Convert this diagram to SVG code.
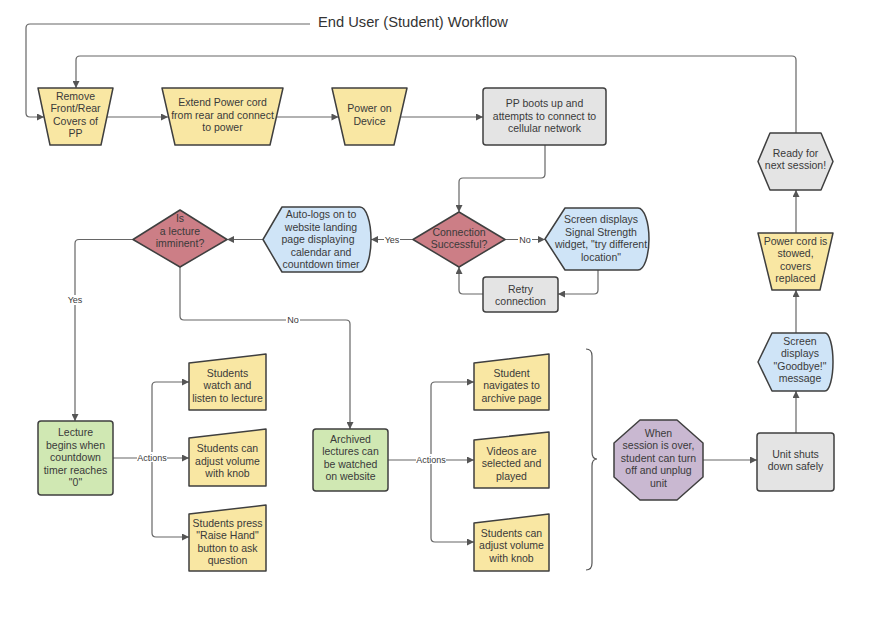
<svg xmlns="http://www.w3.org/2000/svg" width="886" height="626" viewBox="0 0 886 626">
<defs>
<marker id="ah" viewBox="0 0 10 10" refX="10" refY="5" markerWidth="8" markerHeight="7" markerUnits="userSpaceOnUse" orient="auto">
<path d="M0,0 L10,5 L0,10 z" fill="#555"/>
</marker>
<style>
.s{stroke:#3f3f3f;stroke-width:1.5;stroke-linejoin:round}
.y{fill:#f9e7a3}.b{fill:#cfe4f7}.r{fill:#cc7e86}.g{fill:#d0e8b3}.k{fill:#e4e4e4}.p{fill:#c9b8d1}
text{font-family:"Liberation Sans",Arial,sans-serif;font-size:10.5px;fill:#3a3a3a;text-anchor:middle}
.c{fill:none;stroke:#666;stroke-width:1.2}
.a{marker-end:url(#ah)}
.lb{font-size:9px}
.t{font-size:14.7px;text-anchor:start;fill:#333}
</style>
</defs>
<rect width="886" height="626" fill="#fff"/>
<text class="t" x="318" y="27">End User (Student) Workflow</text>

<g id="connectors">
<path class="c a" d="M310,24 H30 Q26,24 26,28 V113 Q26,117 30,117 H44"/>
<path class="c a" d="M796,133 V60 Q796,56 792,56 H80 Q76,56 76,60 V88"/>
<path class="c a" d="M107,117 H168"/>
<path class="c a" d="M276.5,117 H338.5"/>
<path class="c a" d="M400.5,117 H483"/>
<path class="c a" d="M545,145 V174 Q545,178 541,178 H463 Q459,178 459,182 V212"/>
<path class="c a" d="M505,239.5 H545"/>
<path class="c a" d="M598,270 V290 Q598,294 594,294 H558"/>
<path class="c a" d="M483,294 H463 Q459,294 459,290 V267"/>
<path class="c a" d="M413,239.5 H371"/>
<path class="c a" d="M263,239.5 H227"/>
<path class="c a" d="M133,239.5 H79 Q75,239.5 75,243.5 V421"/>
<path class="c a" d="M180,267 V316 Q180,320 184,320 H346 Q350,320 350,324 V429"/>
<path class="c a" d="M113,458 H189"/>
<path class="c a" d="M152,458 V386 Q152,382 156,382 H189"/>
<path class="c a" d="M152,458 V533 Q152,537 156,537 H189"/>
<path class="c a" d="M388,460 H474"/>
<path class="c a" d="M431,460 V386 Q431,382 435,382 H474"/>
<path class="c a" d="M431,460 V538 Q431,542 435,542 H474"/>
<path class="c a" d="M703,460 H757"/>
<path class="c a" d="M796,433 V391"/>
<path class="c a" d="M796,333 V290"/>
<path class="c a" d="M796,233 V190"/>
<path fill="none" stroke="#555" stroke-width="1.2" d="M586,349 Q592,349 592,356 V452 Q592,459 597,459 Q592,459 592,466 V563 Q592,570 586,570"/>
<g id="labels">
<rect x="384" y="234" width="16" height="10" fill="#fff"/><text class="lb" x="392" y="242.5">Yes</text>
<rect x="518" y="234" width="14" height="10" fill="#fff"/><text class="lb" x="525" y="242.5">No</text>
<rect x="67" y="295" width="16" height="10" fill="#fff"/><text class="lb" x="75" y="303">Yes</text>
<rect x="286" y="315" width="14" height="10" fill="#fff"/><text class="lb" x="293" y="323">No</text>
<rect x="137" y="452" width="30" height="10" fill="#fff"/><text class="lb" x="152" y="460.5">Actions</text>
<rect x="416" y="454" width="30" height="10" fill="#fff"/><text class="lb" x="431" y="462.5">Actions</text>
</g>
</g>

<g id="n1"><path class="s y" d="M38,88 H113 L101,145 H50 Z"/>
<text x="75.5" y="99.5">Remove</text><text x="75.5" y="112">Front/Rear</text><text x="75.5" y="124.5">Covers of</text><text x="75.5" y="137">PP</text></g>
<g id="n2"><path class="s y" d="M162,88 H283 L270,145 H175 Z"/>
<text x="222.5" y="105.5">Extend Power cord</text><text x="222.5" y="118.5">from rear and connect</text><text x="222.5" y="131">to power</text></g>
<g id="n3"><path class="s y" d="M332,88 H407 L394,145 H345 Z"/>
<text x="369.5" y="112">Power on</text><text x="369.5" y="124.5">Device</text></g>
<g id="n4"><rect class="s k" x="483" y="88" width="123" height="57" rx="3"/>
<text x="544.5" y="107">PP boots up and</text><text x="544.5" y="119.5">attempts to connect to</text><text x="544.5" y="132">cellular network</text></g>
<g id="n5"><path class="s r" d="M459,212 L505,239.5 L459,267 L413,239.5 Z"/>
<text x="459" y="235.5">Connection</text><text x="459" y="248">Successful?</text></g>
<g id="n6"><path class="s b" d="M545,239 L565,208 H638 A11,31 0 0 1 638,270 H565 Z"/>
<text x="601" y="223">Screen displays</text><text x="601" y="235.5">Signal Strength</text><text x="601" y="248">widget, "try different</text><text x="601" y="260.5">location"</text></g>
<g id="n7"><rect class="s k" x="483" y="277" width="75" height="35" rx="3"/>
<text x="520.5" y="292.5">Retry</text><text x="520.5" y="305">connection</text></g>
<g id="n8"><path class="s b" d="M263,239.5 L282,207 H360 A11,32.5 0 0 1 360,272 H282 Z"/>
<text x="321" y="218">Auto-logs on to</text><text x="321" y="230.5">website landing</text><text x="318" y="243">page displaying</text><text x="321" y="255.5">calendar and</text><text x="321" y="268">countdown timer</text></g>
<g id="n9"><path class="s r" d="M180,210 L227,239.5 L180,267 L133,239.5 Z"/>
<text x="180" y="222">Is</text><text x="180" y="234.5">a lecture</text><text x="180" y="247">imminent?</text></g>
<g id="n10"><rect class="s g" x="38" y="421" width="75" height="74" rx="3"/>
<text x="75.5" y="436">Lecture</text><text x="75.5" y="448.5">begins when</text><text x="75.5" y="461">countdown</text><text x="75.5" y="473.5">timer reaches</text><text x="75.5" y="486">"0"</text></g>
<g id="n11"><path class="s y" d="M189,363 L266,354 V410 H189 Z"/>
<text x="227.5" y="376.5">Students</text><text x="227.5" y="389">watch and</text><text x="227.5" y="401.5">listen to lecture</text></g>
<g id="n12"><path class="s y" d="M189,438 L266,429 V486 H189 Z"/>
<text x="227.5" y="452">Students can</text><text x="227.5" y="464.5">adjust volume</text><text x="227.5" y="477">with knob</text></g>
<g id="n13"><path class="s y" d="M189,514 L266,505 V571 H189 Z"/>
<text x="227.5" y="526.5">Students press</text><text x="227.5" y="539">"Raise Hand"</text><text x="227.5" y="551.5">button to ask</text><text x="227.5" y="564">question</text></g>
<g id="n14"><rect class="s g" x="313" y="429" width="75" height="62" rx="3"/>
<text x="350.5" y="442.5">Archived</text><text x="350.5" y="455">lectures can</text><text x="350.5" y="467.5">be watched</text><text x="350.5" y="480">on website</text></g>
<g id="n15"><path class="s y" d="M474,363 L549,354 V410 H474 Z"/>
<text x="511.5" y="376.5">Student</text><text x="511.5" y="389">navigates to</text><text x="511.5" y="401.5">archive page</text></g>
<g id="n16"><path class="s y" d="M474,440 L549,432 V488 H474 Z"/>
<text x="511.5" y="454.5">Videos are</text><text x="511.5" y="467">selected and</text><text x="511.5" y="479.5">played</text></g>
<g id="n17"><path class="s y" d="M474,523 L549,514 V571 H474 Z"/>
<text x="511.5" y="536.5">Students can</text><text x="511.5" y="549">adjust volume</text><text x="511.5" y="561.5">with knob</text></g>
<g id="n18"><path class="s p" d="M640,420 H677 L703,443 V477 L677,500 H640 L614,477 V443 Z"/>
<text x="658.5" y="436.5">When</text><text x="658.5" y="449">session is over,</text><text x="658.5" y="461.5">student can turn</text><text x="658.5" y="474">off and unplug</text><text x="658.5" y="486.5">unit</text></g>
<g id="n19"><rect class="s k" x="757" y="433" width="77" height="58" rx="3"/>
<text x="795.5" y="457.5">Unit shuts</text><text x="795.5" y="470">down safely</text></g>
<g id="n20"><path class="s b" d="M758,362 L772,333 H825 A8,29 0 0 1 825,391 H772 Z"/>
<text x="800" y="344.5">Screen</text><text x="800" y="357">displays</text><text x="800" y="369.5">"Goodbye!"</text><text x="800" y="382">message</text></g>
<g id="n21"><path class="s y" d="M758,233 H833 L820,290 H772 Z"/>
<text x="795.5" y="244.5">Power cord is</text><text x="795.5" y="257">stowed,</text><text x="795.5" y="269.5">covers</text><text x="795.5" y="282">replaced</text></g>
<g id="n22"><path class="s k" d="M758,161.5 L770,133 H821 L833,161.5 L821,190 H770 Z"/>
<text x="795.5" y="156.5">Ready for</text><text x="795.5" y="169">next session!</text></g>
</svg>
